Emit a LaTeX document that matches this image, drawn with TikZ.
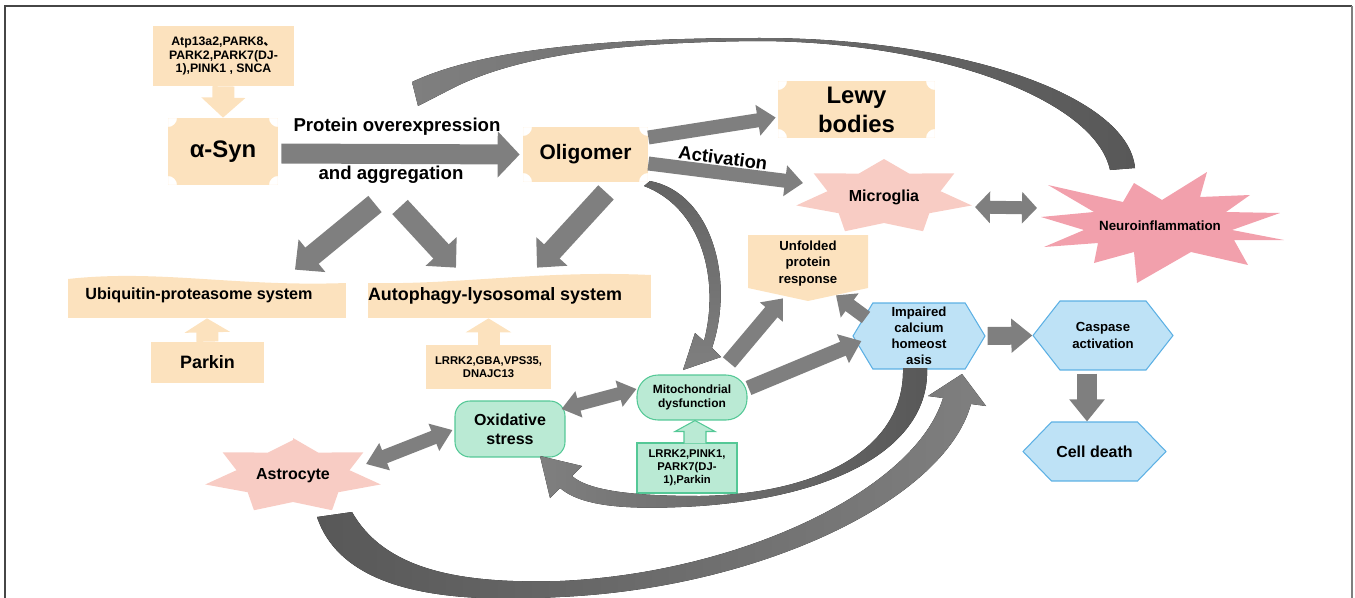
\documentclass[tikz,border=0pt]{standalone}
\usepackage{fontspec}
\setmainfont{Liberation Sans}
\newfontfamily\cjk{Noto Sans CJK SC}
\usetikzlibrary{arrows.meta,calc,shapes.symbols,backgrounds}

\definecolor{boxfill}{RGB}{252,226,190}
\definecolor{arrowgray}{RGB}{127,127,127}
\definecolor{curvedark}{RGB}{88,88,88}
\definecolor{starpink}{RGB}{248,204,196}
\definecolor{neuropink}{RGB}{242,160,172}
\definecolor{greenfill}{RGB}{186,234,212}
\definecolor{greenline}{RGB}{84,200,150}
\definecolor{hexfill}{RGB}{190,226,246}
\definecolor{hexline}{RGB}{92,176,228}
\definecolor{framegray}{RGB}{70,70,70}

\newcommand{\fs}[2]{\fontsize{#1}{#2}\selectfont\bfseries}

\begin{document}
\begin{tikzpicture}[x=0.02cm, y=-0.02cm,
  every node/.style={inner sep=0pt, align=center},
  boxbg/.style={fill=boxfill},
  plaque/.style={path picture={\fill[boxfill, even odd rule]
      (path picture bounding box.south west) rectangle (path picture bounding box.north east)
      (path picture bounding box.south west) circle[radius=0.18cm]
      (path picture bounding box.south east) circle[radius=0.18cm]
      (path picture bounding box.north west) circle[radius=0.18cm]
      (path picture bounding box.north east) circle[radius=0.18cm];}},
  wavel/.style={path picture={\fill[boxfill] (path picture bounding box.south west)
      -- (path picture bounding box.south east) -- ($(path picture bounding box.north east)+(0,10)$)
      .. controls ($(path picture bounding box.north east)+(-110,14)$) and ($(path picture bounding box.north west)+(90,-4)$)
      .. ($(path picture bounding box.north west)+(0,6)$) -- cycle;}},
  waver/.style={path picture={\fill[boxfill] (path picture bounding box.south west)
      -- (path picture bounding box.south east) -- ($(path picture bounding box.north east)+(0,2)$)
      .. controls ($(path picture bounding box.north east)+(-110,-3)$) and ($(path picture bounding box.north west)+(90,12)$)
      .. ($(path picture bounding box.north west)+(0,10)$) -- cycle;}},
  penta/.style={path picture={\fill[boxfill] (path picture bounding box.north west)
      -- (path picture bounding box.north east) -- ($(path picture bounding box.north east)+(0,53)$)
      -- (path picture bounding box.south) -- ($(path picture bounding box.north west)+(0,53)$) -- cycle;}},
  hexa/.style={signal, signal to=east and west, signal pointer angle=#1, draw=hexline, fill=hexfill, line width=0.6pt},
  grnbox/.style={draw=greenline, fill=greenfill, line width=0.6pt},
  blk/.style n args={3}{draw=arrowgray, line width=#1cm, -{Triangle[width=#2cm,length=#3cm]}},
  dblk/.style n args={3}{draw=arrowgray, line width=#1cm,
      {Triangle[width=#2cm,length=#3cm]}-{Triangle[width=#2cm,length=#3cm]}}]
\useasboundingbox (0,0) rectangle (1355,598);
\begin{scope}
\clip (0,0) rectangle (1355,598);
\draw[framegray, line width=0.04cm] (5,620) -- (5,6) -- (1352,6);
\draw[arrowgray, line width=0.05cm] (1352,6) -- (1352,620);
\end{scope}

% nodes
\node[boxbg, minimum width=2.82cm, minimum height=1.2cm, font=\fs{7}{7.9}] (gene) at (223.5,56) {Atp13a2,PARK8{\cjk 、}\\PARK2,PARK7(DJ-\\1),PINK1 , SNCA};
\node[plaque, minimum width=2.2cm, minimum height=1.34cm, font=\fs{13.6}{16}] (asyn) at (223,151.5) {α-Syn};
\node[plaque, minimum width=2.5cm, minimum height=1.1cm, font=\fs{11.9}{14}] (oligo) at (585.5,154.5) {Oligomer};
\node[plaque, minimum width=3.14cm, minimum height=1.14cm, font=\fs{13.6}{16.4}] (lewy) at (856.5,109.5) {Lewy\\bodies};
\node[font=\fs{10.6}{12}] (pover) at (397,127) {Protein overexpression};
\node[font=\fs{10.6}{12}] (aggr) at (391,175) {and aggregation};
\node[font=\fs{10.5}{12}, rotate=-7.5] (actv) at (723,158) {Activation};
\node[font=\fs{9.1}{11}] (micro) at (884,197) {Microglia};
\node[font=\fs{7.6}{9}] (neuro) at (1160,226) {Neuroinflammation};
\node[wavel, minimum width=5.56cm, minimum height=0.9cm, font=\fs{9.2}{11}] (ups) at (207,295.5) {Ubiquitin-proteasome system\hspace*{0.32cm}};
\node[waver, minimum width=5.62cm, minimum height=0.9cm, font=\fs{10.2}{12}] (autoph) at (509.5,295.5) {Autophagy-lysosomal system\hspace*{0.58cm}};
\node[boxbg, minimum width=2.26cm, minimum height=0.82cm, font=\fs{10.2}{12}] (parkin) at (207.5,362.5) {Parkin};
\node[boxbg, minimum width=2.5cm, minimum height=0.88cm, font=\fs{6.4}{7.5}] (lrrkgba) at (488.5,367) {LRRK2,GBA,VPS35,\\DNAJC13};
\node[penta, minimum width=2.4cm, minimum height=1.32cm, font=\fs{7.5}{9.4}] (upr) at (808,268) {Unfolded\\protein\\response\rule[-0.24cm]{0pt}{0.24cm}};
\node[hexa=118, minimum width=2.64cm, minimum height=1.32cm, font=\fs{7.5}{9.2}] (imp) at (919,336) {Impaired\\calcium\\homeost\\asis};
\node[hexa=104, minimum width=2.8cm, minimum height=1.38cm, font=\fs{7.5}{9.4}] (casp) at (1103,335.5) {Caspase\\activation};
\node[hexa=92, minimum width=2.86cm, minimum height=1.18cm, font=\fs{9.1}{11}] (cell) at (1094.5,451.5) {Cell death};
\node[grnbox, rounded corners=0.42cm, minimum width=2.2cm, minimum height=0.9cm, font=\fs{6.8}{7.6}] (mito) at (692,397.5) {Mitochondrial\\dysfunction};
\node[grnbox, minimum width=2cm, minimum height=1cm, font=\fs{6.4}{7.5}] (lrrkpk) at (687,468) {LRRK2,PINK1,\\PARK7(DJ-\\1),Parkin};
\node[grnbox, rounded corners=0.3cm, minimum width=2.2cm, minimum height=1.12cm, font=\fs{9.1}{10.8}] (oxi) at (510,429) {Oxidative\\stress};
\node[font=\fs{9.1}{11}] (astro) at (293,476) {Astrocyte};

% stars behind the cell labels
\begin{scope}[on background layer]
\fill[starpink, shift={(micro)}] (0,-38) \foreach \k in {1,...,7} {
  -- ({58*cos(90+(\k-0.5)*360/7)},{-26*sin(90+(\k-0.5)*360/7)})
  -- ({90*cos(90+\k*360/7)},{-38*sin(90+\k*360/7)}) } -- cycle;
\fill[starpink, shift={(astro)}] (0,-36) \foreach \k in {1,...,7} {
  -- ({58*cos(90+(\k-0.5)*360/7)},{-26*sin(90+(\k-0.5)*360/7)})
  -- ({90*cos(90+\k*360/7)},{-38*sin(90+\k*360/7)}) } -- cycle;
\fill[neuropink, shift={(neuro)}] (-119,-9) -- (-66,-14) -- (-112,-41) -- (-37,-24) -- (-26,-43)
  -- (2,-26) -- (47,-54) -- (40,-29) -- (90,-31) -- (66,-14) -- (120,-13) -- (72,4)
  -- (124,14) -- (74,14) -- (88,39) -- (31,26) -- (-23,57) -- (-26,26) -- (-66,37)
  -- (-62,17) -- (-116,21) -- (-76,4) -- cycle;
\end{scope}

% straight block arrows
\draw[blk={0.44}{0.86}{0.4}, draw=boxfill] (gene.south) -- (asyn.north);
\draw[blk={0.44}{0.9}{0.28}, draw=boxfill] (parkin.north) -- (ups.south);
\draw[blk={0.44}{0.9}{0.28}, draw=boxfill] (lrrkgba.north) -- (lrrkgba.north |- autoph.south);
\draw[greenline, fill=greenfill, line width=0.6pt] ($(lrrkpk.north)+(-3,1)$) -- ++(0,-12) -- ++(-9,0)
  -- ($(mito.south)+(3,0)$) -- ($(lrrkpk.north)+(28,-11)$) -- ++(-9,0) -- ++(0,12);
\draw[blk={0.4}{0.9}{0.44}] ($(asyn.east)+(3,2)$) -- ($(oligo.west)+(-3,0)$);
\draw[blk={0.28}{0.6}{0.36}] ($(oligo.east)+(0,-17)$) -- ($(lewy.west)+(-2,8)$);
\draw[blk={0.28}{0.6}{0.36}] ($(oligo.east)+(0,9)$) -- ($(micro)+(-81,-14)$);
\draw[dblk={0.26}{0.62}{0.3}] ($(micro)+(91,10)$) -- ($(neuro)+(-123,-18)$);
\draw[blk={0.42}{0.82}{0.44}] ($(aggr)+(-16,29)$) -- ($(ups.north)+(88,-3)$);
\draw[blk={0.42}{0.82}{0.44}] ($(aggr)+(9,32)$) -- ($(autoph.north)+(-53.5,-5)$);
\draw[blk={0.42}{0.82}{0.44}] ($(oligo.south)+(20.5,10)$) -- ($(autoph.north)+(27.5,-5)$);
\draw[blk={0.32}{0.58}{0.36}] ($(mito.north)+(37,-12)$) -- ($(upr.south)+(-25,-3)$);
\draw[blk={0.3}{0.6}{0.4}] ($(mito.east)+(1,-9.5)$) -- ($(imp.west)+(9,5)$);
\draw[blk={0.28}{0.58}{0.34}] ($(imp.north)+(-53,15)$) -- ($(upr.south)+(28,-6)$);
\draw[blk={0.36}{0.66}{0.42}] ($(imp.east)+(2,0)$) -- (casp.west);
\draw[blk={0.4}{0.68}{0.44}] ($(casp.south)+(-16,3)$) -- ($(cell.north)+(-7.5,0)$);
\draw[dblk={0.26}{0.52}{0.36}] ($(oxi.east)+(-4,-20)$) -- ($(mito.west)+(0,-8.5)$);
\draw[dblk={0.28}{0.56}{0.4}] ($(astro)+(73,-12)$) -- ($(oxi.west)+(-2,1)$);

% curved arrows
\fill[left color=arrowgray, right color=curvedark]
  (1135,168) .. controls (1128,95) and (960,38) .. (760,38)
  .. controls (600,38) and (480,50) .. (412,82)
  -- (418,106) -- (455,87)
  .. controls (520,55) and (620,42) .. (760,41)
  .. controls (940,42) and (1095,100) .. (1110,170) -- cycle;
\fill[top color=curvedark!70!arrowgray, bottom color=arrowgray]
  (650,181) .. controls (712,193) and (735,280) .. (712,348)
  -- (721,357) -- (683,370) -- (695,333) -- (704,341)
  .. controls (720,280) and (702,208) .. (644,186) -- cycle;
\fill[left color=arrowgray, right color=curvedark]
  (927,368) .. controls (930,440) and (850,495) .. (700,506)
  .. controls (620,511) and (580,505) .. (560,488)
  -- (550,498) -- (540,456) -- (582,466) -- (572,476)
  .. controls (590,492) and (640,496) .. (700,496)
  .. controls (820,494) and (905,448) .. (903,368) -- cycle;
\fill[left color=curvedark, right color=arrowgray]
  (317,517) .. controls (345,600) and (470,602) .. (560,597)
  .. controls (760,588) and (945,500) .. (971,404)
  -- (986,406) -- (962,374) -- (928,396) -- (943,398)
  .. controls (915,490) and (740,573) .. (560,581)
  .. controls (460,584) and (385,570) .. (352,512) -- cycle;
\end{tikzpicture}
\end{document}
